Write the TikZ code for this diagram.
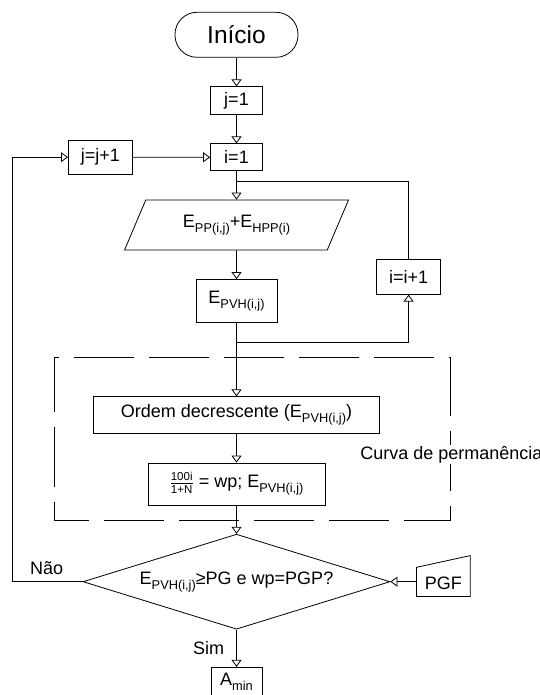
\documentclass[tikz,border=0pt]{standalone}
\usepackage{fontspec}
\setmainfont{Liberation Sans}
\usetikzlibrary{arrows.meta,shapes.geometric}
\newcommand\idx[1]{\raisebox{-5pt}{\fontsize{12.8}{14}\selectfont #1}}
\newcommand\fracfont{\fontsize{11.5}{12}\selectfont}

\begin{document}
\begin{tikzpicture}[x=1pt,y=-1pt,line width=0.8pt,
  every node/.style={font=\fontsize{18}{20}\selectfont,inner sep=0pt},
  box/.style={draw,rectangle,minimum width=#1},
  arr/.style={-{Triangle[open,length=7pt,width=10pt]}}]
  \def \cx {236.5}

  \useasboundingbox (0,0) rectangle (539,695);

  \node[draw,dash pattern=on 60pt off 15pt,dash phase=25pt,minimum width=396pt,minimum height=163pt] (grp) at (252.3,438.5) {};
  \node[anchor=base west,fill=white,inner sep=1pt] (curva) at (359,459) {Curva de permanência};

  \node[draw,rounded corners=22pt,minimum width=123pt,minimum height=45pt,font=\fontsize{24.5}{28}\selectfont] (start) at (\cx,34.8) {Início};
  \node[box=52pt,minimum height=28pt] (j1) at (\cx,100.8) {j=1};
  \node[box=52pt,minimum height=27pt] (i1) at (\cx,157.3) {i=1};
  \node[box=64pt,minimum height=34pt] (jj) at (100.4,157.2) {j=j+1};
  \node[draw,trapezium,trapezium left angle=58,trapezium right angle=122,trapezium stretches=true,minimum width=224pt,minimum height=50pt] (inp) at (\cx,225) {E\idx{PP(i,j)}+E\idx{HPP(i)}};
  \node[box=81pt,minimum height=43pt] (epvh) at (\cx,301) {E\idx{PVH(i,j)}};
  \node[box=64pt,minimum height=35pt] (ii) at (408.6,276.7) {i=i+1};
  \node[box=286pt,minimum height=37pt] (ord) at (\cx,415.3) {Ordem decrescente (E\idx{PVH(i,j)})};
  \node[box=177pt,minimum height=42pt] (frc) at (\cx,484) {\ensuremath{\frac{\mbox{\fracfont 100i}}{\mbox{\fracfont 1+N}}} = wp; E\idx{PVH(i,j)}};
  \node[draw,diamond,shape aspect=3.23,minimum width=307pt,minimum height=95pt] (dia) at (\cx,581.7) {E\idx{PVH(i,j)}≥PG e wp=PGP?};
  \node[minimum width=53pt,minimum height=40pt,text height=26pt,text depth=0pt] (pgf) at (443.4,576) {PGF};
  \draw (pgf.south west) -- (pgf.south east) -- (pgf.north east) -- ([yshift=-11.7pt]pgf.north west) -- cycle;
  \node[box=51pt,minimum height=28pt] (amin) at (\cx,681.3) {A\idx{min}};

  \coordinate (top) at (\cx,181.7);
  \coordinate (bot) at (\cx,342.7);
  \coordinate (lft) at (12.3,581.7);

  \draw[arr] (start) -- (j1);
  \draw[arr] (j1) -- (i1);
  \draw[arr] (jj) -- (i1);
  \draw[arr] (i1) -- (inp);
  \draw (top) -| (ii.north);
  \draw[arr] (inp) -- (epvh);
  \draw[arr] (epvh) -- (ord);
  \draw[arr] (bot) -| (ii.south);
  \draw[arr] (ord) -- (frc);
  \draw[arr] (frc) -- (dia);
  \draw[arr] (dia) -- node[left=12pt] (sim) {Sim} (amin);
  \draw[arr] (dia.west) -- (lft) |- (jj.west);
  \node (nao) at (46.7,568) {Não};
  \draw[arr] (pgf.west |- dia.east) -- (dia.east);
\end{tikzpicture}
\end{document}
